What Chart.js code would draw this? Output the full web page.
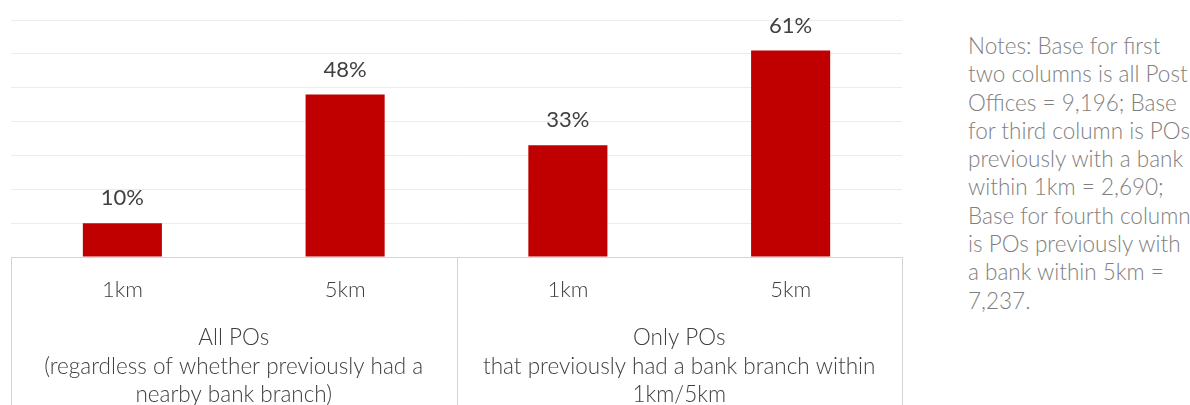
<!DOCTYPE html>
<html>
<head>
<meta charset="utf-8">
<script src="https://cdn.jsdelivr.net/npm/chart.js@4"></script>
<style>
  body { margin: 0; background: #fff; }
  #wrap { position: absolute; left: 0; top: 0; width: 912px; height: 405px; }
  #notes {
    position: absolute; left: 968px; top: 32px; width: 222px;
    font: 300 22.5px Lato; line-height: 28.3px; color: #7f7f7f; white-space: nowrap;
  }
</style>
</head>
<body>
<div id="wrap"><canvas id="myChart" width="912" height="405"></canvas></div>
<div id="notes">Notes: Base for first<br>two columns is all Post<br>Offices = 9,196; Base<br>for third column is POs<br>previously with a bank<br>within 1km = 2,690;<br>Base for fourth column<br>is POs previously with<br>a bank within 5km =<br>7,237.</div>
<script>
const categories = ['1km', '5km', '1km', '5km'];
const shares = [10, 48, 33, 61];
const groups = [
  { from: 0, to: 1, lines: ['All POs', '(regardless of whether previously had a', 'nearby bank branch)'] },
  { from: 2, to: 3, lines: ['Only POs', 'that previously had a bank branch within', '1km/5km'] },
];
const yMax = 70;
const yStep = 10;

const textColor = '#404040';
const boxColor = '#d4d4d4';

// value labels above bars
const valueLabels = {
  id: 'valueLabels',
  afterDatasetsDraw(chart) {
    const { ctx } = chart;
    const meta = chart.getDatasetMeta(0);
    ctx.save();
    ctx.font = '400 22px Lato';
    ctx.fillStyle = textColor;
    ctx.textAlign = 'center';
    ctx.textBaseline = 'middle';
    meta.data.forEach((bar, i) => {
      ctx.fillText(shares[i] + '%', bar.x, bar.y - 25);
    });
    ctx.restore();
  },
};

// grouped category boxes under the axis
const groupBoxes = {
  id: 'groupBoxes',
  afterDraw(chart) {
    const { ctx, chartArea, scales } = chart;
    const x = scales.x;
    const bottom = chart.height;
    const edges = [chartArea.left];
    groups.forEach((g, gi) => {
      if (gi < groups.length - 1) {
        edges.push((x.getPixelForValue(g.to) + x.getPixelForValue(g.to + 1)) / 2);
      }
    });
    edges.push(chartArea.right);
    ctx.save();
    ctx.strokeStyle = boxColor;
    ctx.lineWidth = 1;
    edges.forEach(px => {
      const xx = Math.round(px) + 0.5;
      ctx.beginPath();
      ctx.moveTo(xx, chartArea.bottom);
      ctx.lineTo(xx, bottom);
      ctx.stroke();
    });
    ctx.font = '300 22.5px Lato';
    ctx.fillStyle = textColor;
    ctx.textAlign = 'center';
    ctx.textBaseline = 'middle';
    groups.forEach(g => {
      const cx = (x.getPixelForValue(g.from) + x.getPixelForValue(g.to)) / 2;
      g.lines.forEach((line, li) => {
        ctx.fillText(line, cx, chartArea.bottom + 81 + li * 28.5);
      });
    });
    ctx.restore();
  },
};

new Chart('myChart', {
  type: 'bar',
  data: {
    labels: categories,
    datasets: [{
      data: shares,
      backgroundColor: '#c00000',
      borderWidth: 0,
      barPercentage: 0.355,
      categoryPercentage: 1,
    }],
  },
  options: {
    responsive: false,
    animation: false,
    layout: { padding: { left: 11, right: 10, top: 20, bottom: 0 } },
    plugins: { legend: { display: false }, tooltip: { enabled: false } },
    scales: {
      y: {
        min: 0,
        max: yMax,
        ticks: { display: false, stepSize: yStep },
        grid: { color: '#ececec', lineWidth: 1, drawTicks: false },
        border: { display: false },
        afterFit(scale) { scale.width = 0; },
      },
      x: {
        grid: { display: false },
        border: { display: true, color: boxColor },
        ticks: { color: textColor, font: { family: 'Lato', size: 22, weight: '300' }, padding: 12, maxRotation: 0 },
        afterFit(scale) { scale.height = 148; },
      },
    },
  },
  plugins: [valueLabels, groupBoxes],
});
</script>
</body>
</html>
